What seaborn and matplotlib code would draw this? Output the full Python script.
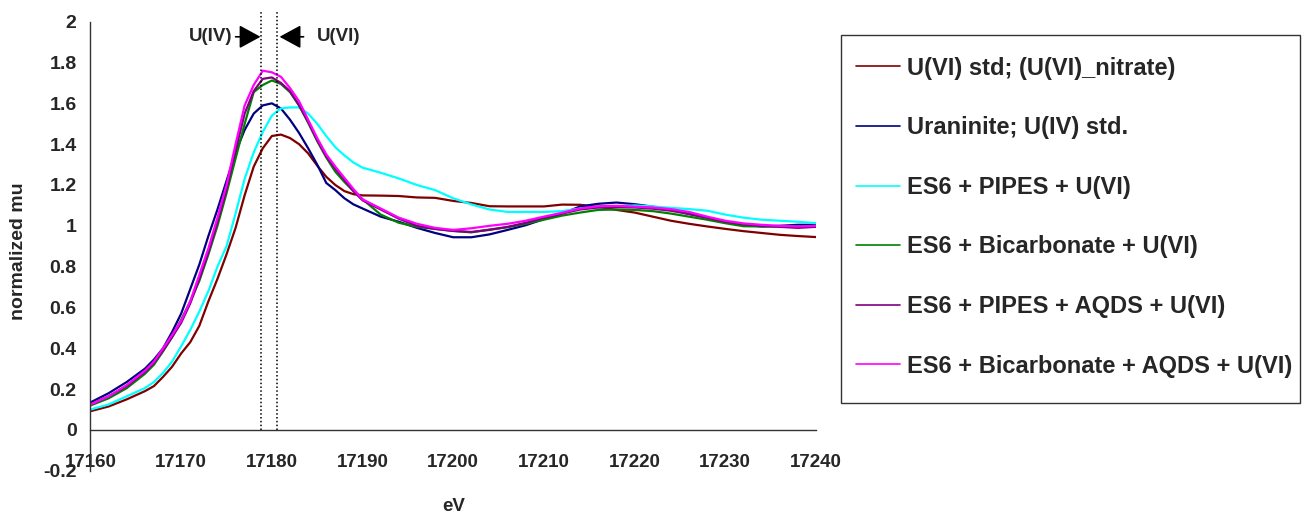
import numpy as np
import pandas as pd
import matplotlib
matplotlib.use("Agg")
import matplotlib.pyplot as plt
from matplotlib.patches import Rectangle
import seaborn as sns

# Energy grid (eV) shared by all spectra
energy = [17160, 17162, 17164, 17166, 17167, 17168, 17169, 17170, 17171, 17172,
          17173, 17174, 17175, 17176, 17177, 17178, 17179, 17180, 17181, 17182,
          17183, 17184, 17185, 17186, 17187, 17188, 17189, 17190, 17192, 17194,
          17196, 17198, 17200, 17202, 17204, 17206, 17208, 17210, 17212, 17214,
          17216, 17218, 17220, 17222, 17224, 17226, 17228, 17230, 17232, 17234,
          17236, 17238, 17240]

u6_nitrate = [0.092, 0.115, 0.150, 0.190, 0.215, 0.260, 0.310, 0.375, 0.430, 0.510,
              0.630, 0.740, 0.860, 0.990, 1.150, 1.290, 1.380, 1.440, 1.447, 1.430,
              1.400, 1.355, 1.295, 1.240, 1.200, 1.170, 1.155, 1.149, 1.148, 1.146,
              1.139, 1.137, 1.122, 1.112, 1.096, 1.095, 1.095, 1.095, 1.104, 1.103,
              1.092, 1.078, 1.065, 1.045, 1.025, 1.010, 0.997, 0.985, 0.974, 0.965,
              0.956, 0.950, 0.945]

uraninite = [0.135, 0.180, 0.235, 0.300, 0.345, 0.400, 0.480, 0.570, 0.690, 0.810,
             0.950, 1.080, 1.220, 1.360, 1.470, 1.550, 1.590, 1.600, 1.575, 1.520,
             1.455, 1.380, 1.300, 1.210, 1.175, 1.135, 1.105, 1.085, 1.045, 1.020,
             0.990, 0.965, 0.944, 0.944, 0.958, 0.980, 1.003, 1.033, 1.060, 1.095,
             1.108, 1.114, 1.106, 1.094, 1.080, 1.058, 1.040, 1.020, 1.005, 0.997,
             1.000, 1.005, 1.005]

es6_pipes = [0.100, 0.125, 0.165, 0.205, 0.235, 0.280, 0.335, 0.410, 0.490, 0.580,
             0.680, 0.800, 0.900, 1.060, 1.230, 1.360, 1.460, 1.540, 1.575, 1.580,
             1.580, 1.550, 1.500, 1.440, 1.385, 1.345, 1.310, 1.285, 1.260, 1.232,
             1.200, 1.175, 1.135, 1.105, 1.080, 1.068, 1.068, 1.068, 1.072, 1.085,
             1.090, 1.095, 1.100, 1.095, 1.088, 1.082, 1.074, 1.055, 1.040, 1.030,
             1.025, 1.020, 1.013]

es6_bicarb = [0.120, 0.155, 0.205, 0.275, 0.320, 0.385, 0.455, 0.540, 0.630, 0.730,
              0.860, 1.000, 1.160, 1.330, 1.500, 1.655, 1.690, 1.712, 1.695, 1.655,
              1.590, 1.505, 1.415, 1.335, 1.265, 1.215, 1.170, 1.130, 1.055, 1.015,
              0.995, 0.985, 0.975, 0.968, 0.982, 0.993, 1.010, 1.030, 1.050, 1.065,
              1.078, 1.080, 1.078, 1.072, 1.060, 1.045, 1.030, 1.013, 0.998, 0.997,
              0.997, 0.998, 1.000]

es6_pipes_aqds = [0.125, 0.165, 0.215, 0.285, 0.330, 0.390, 0.455, 0.525, 0.620, 0.740,
                  0.870, 1.020, 1.180, 1.370, 1.550, 1.660, 1.720, 1.727, 1.700, 1.660,
                  1.590, 1.510, 1.420, 1.340, 1.280, 1.225, 1.170, 1.125, 1.080, 1.035,
                  1.000, 0.985, 0.975, 0.970, 0.980, 0.995, 1.015, 1.040, 1.060, 1.080,
                  1.090, 1.092, 1.090, 1.084, 1.074, 1.058, 1.040, 1.020, 1.008, 1.000,
                  0.995, 0.990, 0.995]

es6_bicarb_aqds = [0.125, 0.165, 0.220, 0.290, 0.335, 0.400, 0.465, 0.535, 0.630, 0.760,
                   0.890, 1.040, 1.200, 1.400, 1.590, 1.690, 1.760, 1.752, 1.730, 1.675,
                   1.610, 1.520, 1.430, 1.350, 1.290, 1.235, 1.180, 1.130, 1.085, 1.040,
                   1.010, 0.990, 0.980, 0.988, 1.000, 1.010, 1.025, 1.045, 1.064, 1.085,
                   1.096, 1.098, 1.094, 1.090, 1.082, 1.068, 1.045, 1.025, 1.012, 1.005,
                   1.000, 0.997, 1.000]

series_labels = ["U(VI) std; (U(VI)_nitrate)",
                 "Uraninite; U(IV) std.",
                 "ES6 + PIPES + U(VI)",
                 "ES6 + Bicarbonate + U(VI)",
                 "ES6 + PIPES + AQDS + U(VI)",
                 "ES6 + Bicarbonate + AQDS + U(VI)"]
series_values = [u6_nitrate, uraninite, es6_pipes, es6_bicarb, es6_pipes_aqds, es6_bicarb_aqds]
series_colors = ["#800000", "#000080", "#00FFFF", "#008000", "#800080", "#FF00FF"]

# Absorption-edge markers for U(IV) and U(VI)
edge_positions = [17178.8, 17180.6]

x_ticks = [17160, 17170, 17180, 17190, 17200, 17210, 17220, 17230, 17240]
y_ticks = [-0.2, 0, 0.2, 0.4, 0.6, 0.8, 1, 1.2, 1.4, 1.6, 1.8, 2]

df = pd.DataFrame({
    "eV": np.tile(energy, len(series_labels)),
    "normalized mu": np.concatenate(series_values),
    "sample": np.repeat(series_labels, len(energy)),
})

sns.set_style("white")
plt.rcParams["font.family"] = ["Liberation Sans", "DejaVu Sans"]
plt.rcParams["font.weight"] = "bold"
plt.rcParams["axes.unicode_minus"] = False

fig = plt.figure(figsize=(13.02, 5.19), dpi=100)
ax = fig.add_axes([0.0695, 0.0929, 0.5572, 0.8653])

sns.lineplot(data=df, x="eV", y="normalized mu", hue="sample",
             hue_order=series_labels, palette=dict(zip(series_labels, series_colors)),
             linewidth=1.6, legend=False, sort=False, ax=ax)
handles = list(ax.get_lines()[:len(series_labels)])

for xe in edge_positions:
    ax.plot([xe, xe], [0, 2.05], linestyle=(0, (1, 1.5)), color="black",
            linewidth=1.1, clip_on=False)

ax.set_xlim(17160, 17240)
ax.set_ylim(-0.2, 2)

for side in ("top", "right"):
    ax.spines[side].set_visible(False)
ax.spines["bottom"].set_position(("data", 0))
for side in ("left", "bottom"):
    ax.spines[side].set_color("#333333")
    ax.spines[side].set_linewidth(1.0)

ax.set_xticks(x_ticks)
ax.set_xticklabels([str(t) for t in x_ticks], fontsize=13.5, fontweight="bold")
ax.set_yticks(y_ticks)
ax.set_yticklabels([f"{t:g}" for t in y_ticks], fontsize=14, fontweight="bold")
ax.tick_params(axis="x", direction="out", length=5, width=1, color="#333333", pad=12)
ax.tick_params(axis="y", direction="out", length=4, width=1, color="#333333", pad=6)

ax.set_xlabel("eV", fontsize=13.5, fontweight="bold")
ax.xaxis.set_label_coords(0.5, -0.06)
ax.set_ylabel("normalized mu", fontsize=14, fontweight="bold")
ax.yaxis.label.set_verticalalignment("center")
ax.yaxis.set_label_coords(-0.099, 0.489)

# Arrows pointing at the two edge markers
arrow_kw = dict(arrowstyle="-|>,head_length=1.1,head_width=0.6", color="black",
                lw=1.2, shrinkA=0, shrinkB=0, mutation_scale=12)
ax.annotate("", xy=(17178.75, 1.926), xytext=(17176.0, 1.926),
            arrowprops=arrow_kw, annotation_clip=False)
ax.annotate("", xy=(17180.85, 1.926), xytext=(17183.5, 1.926),
            arrowprops=arrow_kw, annotation_clip=False)
ax.text(17173.2, 1.926, "U(IV)", ha="center", va="center", fontsize=13.5,
        fontweight="bold", clip_on=False)
ax.text(17187.4, 1.926, "U(VI)", ha="center", va="center", fontsize=13.5,
        fontweight="bold", clip_on=False)

# Legend with a plain rectangular frame
fig.patches.append(Rectangle((0.6459, 0.2235), 0.3525, 0.709, transform=fig.transFigure,
                             fill=False, edgecolor="#333333", linewidth=1.0))
leg = fig.legend(handles, series_labels, loc="upper left", bbox_to_anchor=(0.6575, 0.891),
                 frameon=False, prop={"weight": "bold", "size": 17},
                 borderpad=0, borderaxespad=0, handlelength=1.86, handletextpad=0.3,
                 labelspacing=1.55)
for line in leg.get_lines():
    line.set_linewidth(1.2)

fig.savefig("out.png", dpi=100)
